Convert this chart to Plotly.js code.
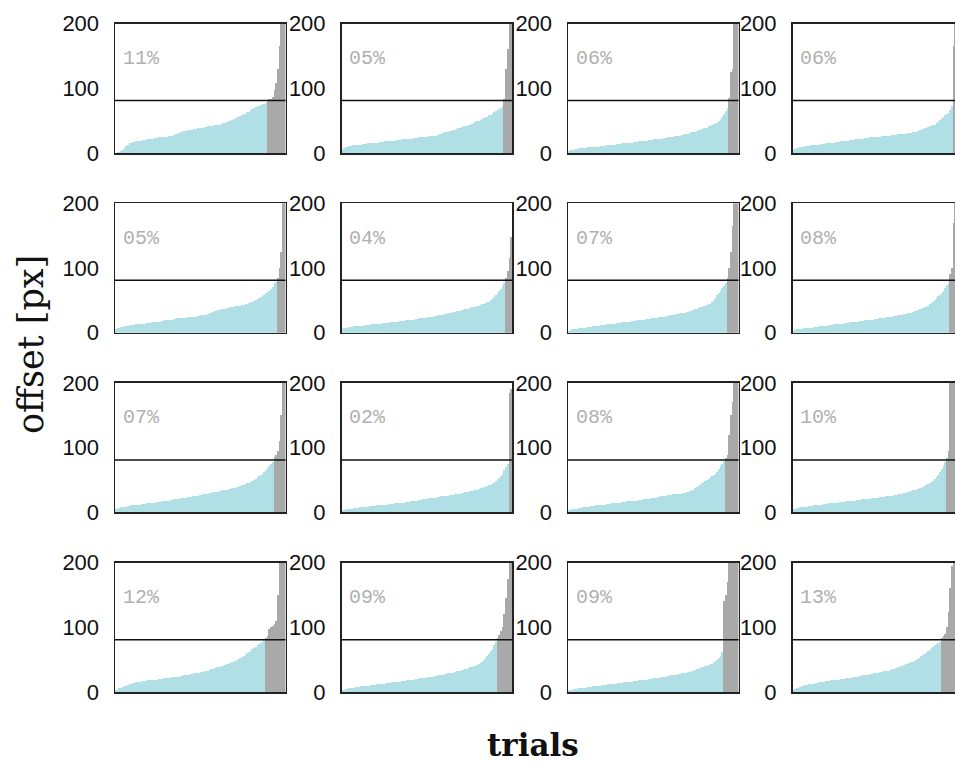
<!DOCTYPE html>
<html>
<head>
<meta charset="utf-8">
<script src="https://cdn.plot.ly/plotly-3.0.1.min.js"></script>
<style>
  html, body { margin: 0; padding: 0; background: #fff; overflow: hidden; }
  #chart { width: 965px; height: 765px; }
</style>
</head>
<body>
<div id="chart"></div>
<script>
// Sorted per-trial offsets [px] for each of the 16 sessions (4 x 4 grid, row by row).
const threshold = 81;
const yTicks = [0, 100, 200];
const yRange = [0, 200];

const s01 = [0,1,2,3,5,8,11,13,15,16,17,17,18,18,19,19,20,20,21,21,21,22,22,23,23,24,24,24,25,25,25,26,26,27,28,29,30,31,32,33,34,34,35,35,36,36,37,37,38,38,39,39,40,40,41,41,42,42,43,43,44,44,45,46,47,48,49,50,51,52,53,55,56,57,58,60,61,63,64,66,68,70,71,72,73,74,75,76,77,82,83,84,86,97,108,130,165,205,230,260];
const s02 = [5,8,10,10,11,11,12,12,12,13,13,13,14,14,14,15,15,15,16,16,16,16,17,17,17,18,18,18,19,19,19,19,20,20,20,21,21,21,21,22,22,22,23,23,23,24,24,24,25,25,25,26,26,26,27,27,28,29,30,31,32,32,33,34,34,35,36,37,38,39,40,41,42,42,43,44,45,46,48,49,50,51,52,54,55,56,58,59,61,63,65,66,68,70,73,84,130,160,210,240];
const s03 = [3,4,5,5,6,6,7,7,8,8,8,9,9,9,9,10,10,10,10,11,11,11,12,12,12,13,13,13,14,14,14,15,15,15,16,16,16,16,17,17,17,18,18,18,19,19,19,20,20,20,21,21,21,22,22,22,23,23,24,24,25,25,26,26,27,27,28,28,29,29,30,31,32,33,33,34,35,36,37,38,38,39,41,42,43,45,46,47,49,51,55,60,65,70,85,125,130,205,230,260];
const s04 = [5,6,7,8,9,10,10,11,11,11,12,12,12,13,13,13,14,14,14,15,15,15,16,16,16,17,17,17,18,18,19,19,19,20,20,20,21,21,21,22,22,22,23,23,23,24,24,24,25,25,25,25,26,26,26,27,27,27,28,28,28,29,29,29,30,30,30,31,31,31,32,32,33,34,35,36,37,38,39,40,41,42,43,44,46,48,51,54,56,58,60,62,66,72,165,210,230,250,270,290];
const s05 = [5,7,8,9,9,10,10,11,11,12,12,12,13,13,13,14,14,14,15,15,15,16,16,16,17,17,17,18,18,19,19,19,20,20,21,21,22,22,22,23,23,23,24,24,24,25,25,25,26,26,27,27,28,28,29,30,31,32,33,34,35,35,36,37,37,38,38,39,40,40,41,41,42,42,43,43,44,45,46,47,48,49,50,52,53,55,57,59,61,63,65,68,71,76,78,85,100,125,200,230];
const s06 = [5,7,8,8,9,9,9,10,10,10,11,11,11,12,12,12,12,13,13,13,13,14,14,14,15,15,15,15,16,16,16,17,17,17,18,18,18,19,19,19,20,20,20,21,21,22,22,22,23,23,24,24,25,25,26,26,27,27,28,28,29,29,30,30,31,32,32,33,33,34,35,35,36,37,37,38,39,40,40,41,42,43,44,45,46,47,48,50,52,55,58,61,65,68,72,77,84,95,115,148];
const s07 = [3,4,5,5,6,6,7,7,8,8,8,9,9,9,10,10,10,11,11,12,12,12,13,13,13,14,14,14,15,15,15,16,16,16,17,17,17,18,18,18,19,19,19,20,20,21,21,21,22,22,23,23,23,24,24,25,25,26,26,27,27,28,28,29,29,30,30,31,31,32,32,33,34,35,36,37,38,39,40,41,42,43,44,45,47,50,54,58,61,65,69,72,76,84,100,125,165,205,235,260];
const s08 = [3,4,5,5,6,6,7,7,7,8,8,8,9,9,9,10,10,10,11,11,11,12,12,12,13,13,13,14,14,14,15,15,15,16,16,16,17,17,17,18,18,18,19,19,19,20,20,20,21,21,22,22,22,23,23,24,24,25,25,26,26,27,27,28,28,29,29,30,30,31,32,33,34,35,36,37,38,39,40,42,44,46,48,50,53,56,59,62,65,69,73,77,90,100,170,205,230,250,270,290];
const s09 = [5,6,7,8,8,9,9,10,10,11,11,11,12,12,12,13,13,13,14,14,14,15,15,15,16,16,16,17,17,18,18,18,19,19,20,20,21,21,22,22,23,23,24,24,24,25,25,26,26,27,27,28,28,29,29,30,30,31,31,32,32,33,34,34,35,35,36,36,37,37,38,39,40,41,42,43,44,45,46,47,48,50,52,54,56,58,60,62,65,68,71,74,78,85,88,95,110,150,205,240];
const s10 = [3,4,5,5,6,6,6,7,7,7,8,8,8,9,9,9,10,10,10,10,11,11,11,11,12,12,12,13,13,13,13,14,14,14,15,15,15,16,16,16,17,17,17,18,18,19,19,20,20,21,21,22,22,23,23,23,24,24,25,25,25,26,26,27,27,27,28,28,29,29,30,30,31,31,32,33,33,34,35,35,36,37,38,39,40,41,42,43,45,46,48,50,53,56,60,65,70,75,185,190];
const s11 = [3,4,5,5,6,6,7,7,8,8,9,9,9,10,10,10,11,11,11,12,12,12,13,13,13,14,14,14,15,15,15,16,16,16,17,17,17,17,18,18,18,19,19,19,20,20,21,21,22,22,23,23,24,24,25,25,26,26,27,27,27,28,28,28,29,29,29,30,30,31,32,33,34,35,37,39,41,43,45,47,48,50,52,54,56,58,60,63,67,71,75,79,84,88,120,150,170,205,235,260];
const s12 = [5,6,7,7,8,8,9,9,9,10,10,10,11,11,11,12,12,12,13,13,13,14,14,14,15,15,15,16,16,16,16,17,17,17,18,18,18,19,19,19,20,20,20,21,21,21,22,22,23,23,23,24,24,24,25,25,26,26,26,27,27,27,28,28,29,30,30,31,32,33,34,35,35,36,37,38,40,41,43,44,45,47,49,52,55,58,62,67,72,78,84,95,200,210,225,240,255,270,285,300];
const s13 = [3,4,6,7,8,9,10,11,12,13,14,14,15,15,16,16,17,17,17,18,18,18,19,19,19,20,20,20,21,21,21,22,22,23,23,23,24,24,25,25,26,26,27,27,28,28,29,29,30,30,31,31,32,33,33,34,35,36,37,38,39,39,40,41,42,43,44,45,46,47,48,49,51,52,54,56,58,60,62,64,66,68,70,72,74,76,78,80,84,86,98,100,102,105,110,150,200,230,250,270];
const s14 = [3,4,5,5,6,6,7,7,8,8,8,9,9,9,10,10,10,11,11,11,12,12,12,13,13,13,14,14,14,15,15,15,16,16,16,17,17,17,18,18,19,19,19,20,20,21,21,21,22,22,23,23,24,24,25,25,26,26,27,27,28,28,29,29,30,30,31,32,32,33,34,34,35,36,37,38,39,40,41,42,43,45,47,49,52,55,59,63,67,72,77,84,88,95,100,120,145,175,205,240];
const s15 = [3,4,4,5,5,6,6,6,7,7,7,8,8,8,9,9,9,10,10,10,11,11,11,12,12,12,13,13,13,14,14,14,15,15,15,16,16,16,17,17,17,18,18,18,19,19,19,20,20,21,21,21,22,22,23,23,24,24,25,25,26,26,27,27,28,28,29,29,30,30,31,31,32,33,34,35,36,37,38,39,40,41,42,43,44,46,48,50,53,56,62,140,150,170,200,210,230,250,270,290];
const s16 = [3,5,6,7,8,9,10,11,11,12,12,13,13,14,14,15,15,16,16,17,17,17,18,18,18,19,19,19,20,20,20,21,21,22,22,23,23,24,24,25,25,26,26,27,27,28,28,29,29,30,30,31,31,32,32,33,33,34,35,36,37,38,39,40,41,42,43,44,45,46,47,48,49,51,53,55,57,59,61,63,65,68,70,72,74,76,78,84,86,90,100,124,160,195,205,230,250,270,290,310];

const sessions = [s01, s02, s03, s04, s05, s06, s07, s08, s09, s10, s11, s12, s13, s14, s15, s16];

// Grid geometry (pixels on a 965 x 765 canvas; the last column runs past the visible edge)
const W = 965, H = 765;
const colLeft = [115, 341.5, 568, 792.5];
const rowTop = [23.5, 203.2, 382.9, 562.6];
const panelW = 170.5, panelH = 129.5;

const belowColor = '#b0dfe5';
const aboveColor = '#a9a9a9';

const traces = [];
const layout = {
  width: W, height: H,
  margin: {l: 0, r: 0, t: 0, b: 0},
  paper_bgcolor: '#fff', plot_bgcolor: '#fff',
  showlegend: false,
  bargap: 0,
  shapes: [], annotations: []
};

sessions.forEach((vals, i) => {
  const n = i + 1;
  const r = Math.floor(i / 4), c = i % 4;
  const xs = vals.map((_, k) => k + 1);
  const over = vals.filter(v => v > threshold).length;
  const pct = Math.round(100 * over / vals.length);
  traces.push({
    type: 'bar', x: xs, y: vals,
    xaxis: 'x' + n, yaxis: 'y' + n,
    marker: {color: vals.map(v => v > threshold ? aboveColor : belowColor), line: {width: 0}},
    hoverinfo: 'skip'
  });
  const xa = n === 1 ? 'xaxis' : 'xaxis' + n;
  const ya = n === 1 ? 'yaxis' : 'yaxis' + n;
  layout[xa] = {
    domain: [colLeft[c] / W, (colLeft[c] + panelW) / W],
    range: [0.5, vals.length + 0.5],
    anchor: 'y' + n,
    showticklabels: false, ticks: '', showgrid: false, zeroline: false,
    showline: true, mirror: true, linecolor: '#222', linewidth: 1.5, fixedrange: true
  };
  layout[ya] = {
    domain: [1 - (rowTop[r] + panelH) / H, 1 - rowTop[r] / H],
    range: yRange,
    anchor: 'x' + n,
    tickvals: yTicks, ticks: '', ticklabelstandoff: 10,
    tickfont: {family: 'Liberation Sans', size: 22, color: '#111'},
    showgrid: false, zeroline: false,
    showline: true, mirror: true, linecolor: '#222', linewidth: 1.5, fixedrange: true
  };
  layout.shapes.push({
    type: 'line', xref: 'x' + n + ' domain', yref: 'y' + n,
    x0: 0, x1: 1, y0: threshold, y1: threshold,
    line: {color: '#111', width: 1.5}
  });
  layout.annotations.push({
    xref: 'x' + n + ' domain', yref: 'y' + n + ' domain',
    x: 0.035, y: 0.73, xanchor: 'left', yanchor: 'middle',
    text: String(pct).padStart(2, '0') + '%', showarrow: false,
    font: {family: 'Liberation Mono', size: 20, color: '#b0b0b0'}
  });
});

layout.annotations.push({
  xref: 'paper', yref: 'paper', x: 31 / W, y: 1 - 345 / H,
  xanchor: 'center', yanchor: 'middle', textangle: -90,
  text: 'offset [px]', showarrow: false,
  font: {family: 'DejaVu Serif', size: 35, color: '#111'}
});
layout.annotations.push({
  xref: 'paper', yref: 'paper', x: 533 / W, y: 1 - 745 / H,
  xanchor: 'center', yanchor: 'middle', borderpad: 0,
  text: '<b>trials</b>', showarrow: false,
  font: {family: 'DejaVu Serif', size: 31, color: '#111'}
});

Plotly.newPlot('chart', traces, layout, {displayModeBar: false, staticPlot: true});
</script>
</body>
</html>
